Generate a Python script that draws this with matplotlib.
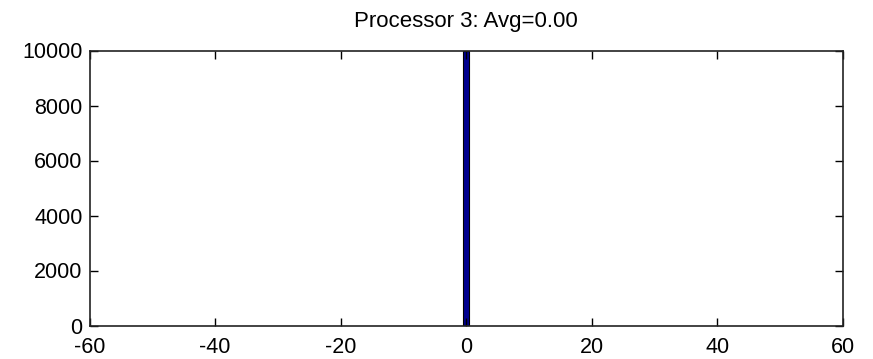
import matplotlib
matplotlib.use("Agg")
import matplotlib.pyplot as plt

# Data
bin_centers = [0]
counts = [10000]
bin_width = 1.0
title = "Processor 3: Avg=0.00"
xticks = [-60, -40, -20, 0, 20, 40, 60]
yticks = [0, 2000, 4000, 6000, 8000, 10000]

plt.rcParams['font.family'] = ['Liberation Sans', 'DejaVu Sans']

fig = plt.figure(figsize=(8.73, 3.59), dpi=100)
ax = fig.add_axes([89.5 / 873, 1 - 325.5 / 359, (843 - 89.5) / 873, (325.5 - 50.5) / 359])

ax.bar(bin_centers, counts, width=bin_width, color='#00008F', edgecolor='black', linewidth=0.8)

ax.set_xlim(-60, 60)
ax.set_ylim(0, 10000)
ax.set_xticks(xticks)
ax.set_yticks(yticks)
ax.set_xticklabels([str(v) for v in xticks])
ax.set_yticklabels([str(v) for v in yticks])
ax.tick_params(direction='in', length=6, width=1, top=True, right=True,
               labelsize=15.5)
ax.tick_params(axis='x', pad=8.5)
ax.tick_params(axis='y', pad=5)
for s in ax.spines.values():
    s.set_linewidth(1.2)
    s.set_color('#222222')
ax.set_title(title, fontsize=16, pad=17)

fig.savefig("out.png", dpi=100, facecolor='white')
